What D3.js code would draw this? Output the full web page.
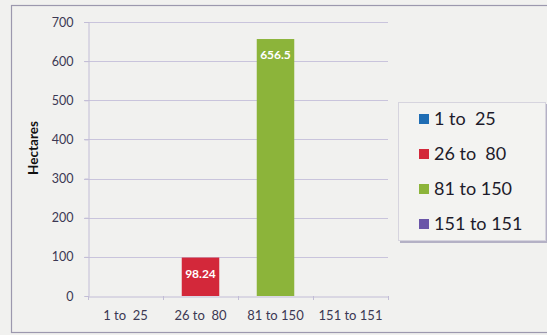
<!DOCTYPE html>
<html>
<head>
<meta charset="utf-8">
<script src="https://cdn.jsdelivr.net/npm/d3@7"></script>
<style>
  html, body { margin: 0; padding: 0; background: #f1f1ef; }
  svg { display: block; }
  text { font-family: Lato, "Open Sans", sans-serif; white-space: pre; }
</style>
</head>
<body>
<svg id="chart" width="547" height="335"></svg>
<script>
// Land holding size classes and their area in hectares
const categories = ["1 to  25", "26 to  80", "81 to 150", "151 to 151"];
const hectares = [0, 98.24, 656.5, 0];
const barColors = ["#1f6db4", "#d3283a", "#8cb43a", "#6a55a8"];
const yTicks = [0, 100, 200, 300, 400, 500, 600, 700];
const yTitle = "Hectares";

const svg = d3.select("#chart");

// chart frame
svg.append("rect")
  .attr("x", 11.5).attr("y", 5.5)
  .attr("width", 560).attr("height", 327)
  .attr("fill", "#f1f1ef")
  .attr("stroke", "#9c98ae").attr("stroke-width", 1.2);

const plot = { left: 88, right: 388, top: 22, bottom: 296 };

const x = d3.scaleBand().domain(categories)
  .range([plot.left, plot.right]).paddingInner(0.5).paddingOuter(0.25);
const xBand = d3.scaleBand().domain(categories).range([plot.left, plot.right]);
const y = d3.scaleLinear().domain([0, 700]).range([plot.bottom, plot.top]);

// horizontal gridlines
svg.append("g").selectAll("line").data(yTicks.filter(d => d > 0)).join("line")
  .attr("x1", plot.left - 4).attr("x2", plot.right)
  .attr("y1", d => Math.round(y(d)) + 0.5).attr("y2", d => Math.round(y(d)) + 0.5)
  .attr("stroke", "#c9c4dc").attr("stroke-width", 1);

// y axis
const yAxis = svg.append("g")
  .attr("transform", `translate(${plot.left + 0.5},0)`)
  .call(d3.axisLeft(y).tickValues(yTicks).tickSize(4).tickPadding(11));
yAxis.select(".domain").attr("stroke", "#c2bdd6");
yAxis.selectAll(".tick line").attr("stroke", "#c2bdd6");
yAxis.selectAll("text").attr("fill", "#3b3853").attr("font-size", 12.5);

// x axis
const xAxis = svg.append("g")
  .attr("transform", `translate(0,${plot.bottom + 0.5})`)
  .call(d3.axisBottom(xBand).tickSize(0).tickPadding(14));
xAxis.select(".domain").attr("stroke", "#c2bdd6");
xAxis.selectAll("text").attr("fill", "#3b3853").attr("font-size", 13);
// category boundary ticks
svg.append("g").selectAll("line")
  .data(categories.map(c => xBand(c)).concat([plot.right]))
  .join("line")
  .attr("x1", d => d + 0.5).attr("x2", d => d + 0.5)
  .attr("y1", plot.bottom).attr("y2", plot.bottom + 4)
  .attr("stroke", "#c2bdd6");

// y title
svg.append("text")
  .attr("transform", "translate(38,148) rotate(-90)")
  .attr("text-anchor", "middle")
  .attr("font-size", 13.5).attr("font-weight", "bold").attr("fill", "#111")
  .text(yTitle);

// bars
const rows = categories.map((c, i) => ({ c, v: hectares[i], color: barColors[i] }));
svg.append("g").selectAll("rect").data(rows).join("rect")
  .attr("x", d => x(d.c)).attr("width", x.bandwidth())
  .attr("y", d => y(d.v)).attr("height", d => y(0) - y(d.v))
  .attr("fill", d => d.color);

// value labels inside bar tops
svg.append("g").selectAll("text").data(rows.filter(d => d.v > 0)).join("text")
  .attr("x", d => x(d.c) + x.bandwidth() / 2)
  .attr("y", d => y(d.v) + 20)
  .attr("text-anchor", "middle")
  .attr("font-size", 12).attr("font-weight", "bold").attr("fill", "#ffffff")
  .text(d => d.v);

// legend
const lg = svg.append("g");
lg.append("rect").attr("x", 400).attr("y", 104).attr("width", 148).attr("height", 139)
  .attr("fill", "#9a96b4").attr("opacity", 0.7);
lg.append("rect").attr("x", 398.5).attr("y", 102.5).attr("width", 147).attr("height", 138)
  .attr("fill", "#f3f3f1").attr("stroke", "#d6d4de");
const items = lg.selectAll("g.item").data(rows).join("g")
  .attr("class", "item")
  .attr("transform", (d, i) => `translate(419,${119 + i * 35})`);
items.append("rect").attr("x", 0).attr("y", -5).attr("width", 10).attr("height", 10)
  .attr("fill", d => d.color);
items.append("text").attr("x", 15).attr("y", 0).attr("dy", "0.36em")
  .attr("font-size", 18).attr("fill", "#1d1b2b")
  .text(d => d.c);
</script>
</body>
</html>
